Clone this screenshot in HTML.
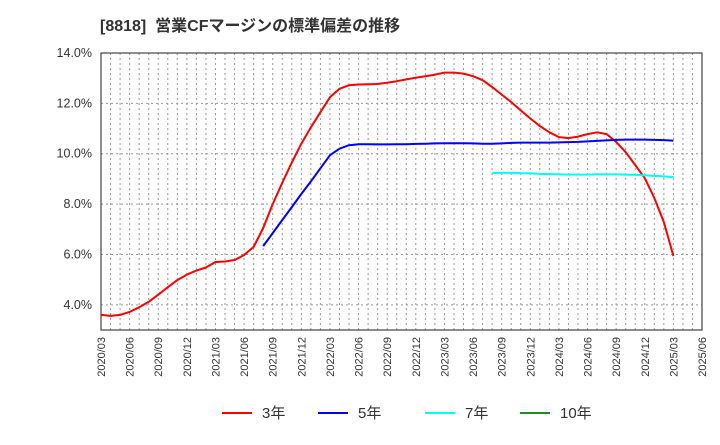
<!DOCTYPE html>
<html><head><meta charset="utf-8"><style>
body{margin:0;background:#fff;font-family:"Liberation Sans","Noto Sans CJK JP",sans-serif}
</style></head><body>
<svg id="c" width="720" height="440" xmlns="http://www.w3.org/2000/svg">
<text x="100" y="31" font-size="16" font-weight="bold" fill="#333" style="white-space:pre">[8818]  営業CFマージンの標準偏差の推移</text>
<g id="grid"></g>
<g id="axes"></g>
<g id="series"></g>
<g id="legend"></g>
</svg>
<script>
const xLabels=["2020/03","2020/06","2020/09","2020/12","2021/03","2021/06","2021/09","2021/12","2022/03","2022/06","2022/09","2022/12","2023/03","2023/06","2023/09","2023/12","2024/03","2024/06","2024/09","2024/12","2025/03","2025/06"];
const yTicks=[4,6,8,10,12,14];
const red=[3.60,3.56,3.60,3.72,3.90,4.12,4.40,4.70,4.98,5.20,5.36,5.48,5.70,5.72,5.78,5.98,6.30,7.05,8.00,8.85,9.65,10.40,11.05,11.65,12.25,12.58,12.72,12.75,12.76,12.77,12.82,12.88,12.95,13.02,13.08,13.14,13.22,13.22,13.18,13.08,12.92,12.65,12.35,12.05,11.72,11.40,11.10,10.85,10.66,10.62,10.68,10.78,10.85,10.78,10.47,10.06,9.55,9.03,8.24,7.29,5.94];
const blueStart=17;
const blue=[6.33,6.85,7.37,7.88,8.40,8.90,9.42,9.94,10.20,10.34,10.38,10.38,10.37,10.37,10.38,10.38,10.39,10.40,10.41,10.42,10.42,10.42,10.41,10.40,10.40,10.41,10.43,10.44,10.44,10.44,10.44,10.45,10.46,10.47,10.49,10.51,10.53,10.55,10.56,10.56,10.56,10.55,10.54,10.52];
const cyanStart=41;
const cyan=[9.23,9.24,9.24,9.23,9.22,9.20,9.19,9.18,9.17,9.17,9.17,9.18,9.18,9.18,9.17,9.16,9.14,9.12,9.10,9.07];
const L=101,R=702,T=53,B=330,NM=63,YMIN=3,YMAX=14;
const xs=i=>L+(R-L)*i/NM, ys=v=>B-(B-T)*(v-YMIN)/(YMAX-YMIN);
const NS="http://www.w3.org/2000/svg";
function mk(p,t,a){const e=document.createElementNS(NS,t);for(const k in a)e.setAttribute(k,a[k]);p.appendChild(e);return e;}
const g=document.getElementById('grid'),ax=document.getElementById('axes'),s=document.getElementById('series'),lg=document.getElementById('legend');
for(let i=1;i<NM;i++){const l=mk(g,'line',{x1:xs(i),x2:xs(i),y1:T,y2:B,stroke:'#999','stroke-dasharray':'2,3','stroke-width':1});

}
yTicks.forEach(v=>{const l=mk(g,'line',{x1:L,x2:R,y1:ys(v),y2:ys(v),stroke:'#999','stroke-dasharray':'2,3','stroke-width':1});


const t=mk(ax,'text',{x:92,y:ys(v)+4,'text-anchor':'end','font-size':12.5,fill:'#333'});t.textContent=v.toFixed(1)+'%';

});
const bx=mk(ax,'rect',{x:L,y:T,width:R-L,height:B-T,fill:'none',stroke:'#444','stroke-width':1.2});


xLabels.forEach((lb,i)=>{const x=xs(i*3)+4;const t=mk(ax,'text',{x:x,y:337,'text-anchor':'end','font-size':11,fill:'#333',transform:`rotate(-90 ${x} 337)`});t.textContent=lb;

});
function line(arr,st,col,name){const d=arr.map((v,i)=>(i?'L':'M')+xs(st+i).toFixed(1)+','+ys(v).toFixed(1)).join('');
const p=mk(s,'path',{d:d,fill:'none',stroke:col,'stroke-width':2,'stroke-linejoin':'round'});

}
line(red,0,'#f00','series-3y');line(blue,blueStart,'#00f','series-5y');line(cyan,cyanStart,'#0ff','series-7y');
const leg=[["3年","#f00",222],["5年","#00f",318],["7年","#0ff",425],["10年","#228b22",520]];
leg.forEach(([n,c,x])=>{const l=mk(lg,'line',{x1:x,x2:x+30,y1:413,y2:413,stroke:c,'stroke-width':2});


const t=mk(lg,'text',{x:x+40,y:418,'font-size':15,fill:'#333'});t.textContent=n;

});
</script>
</body></html>
